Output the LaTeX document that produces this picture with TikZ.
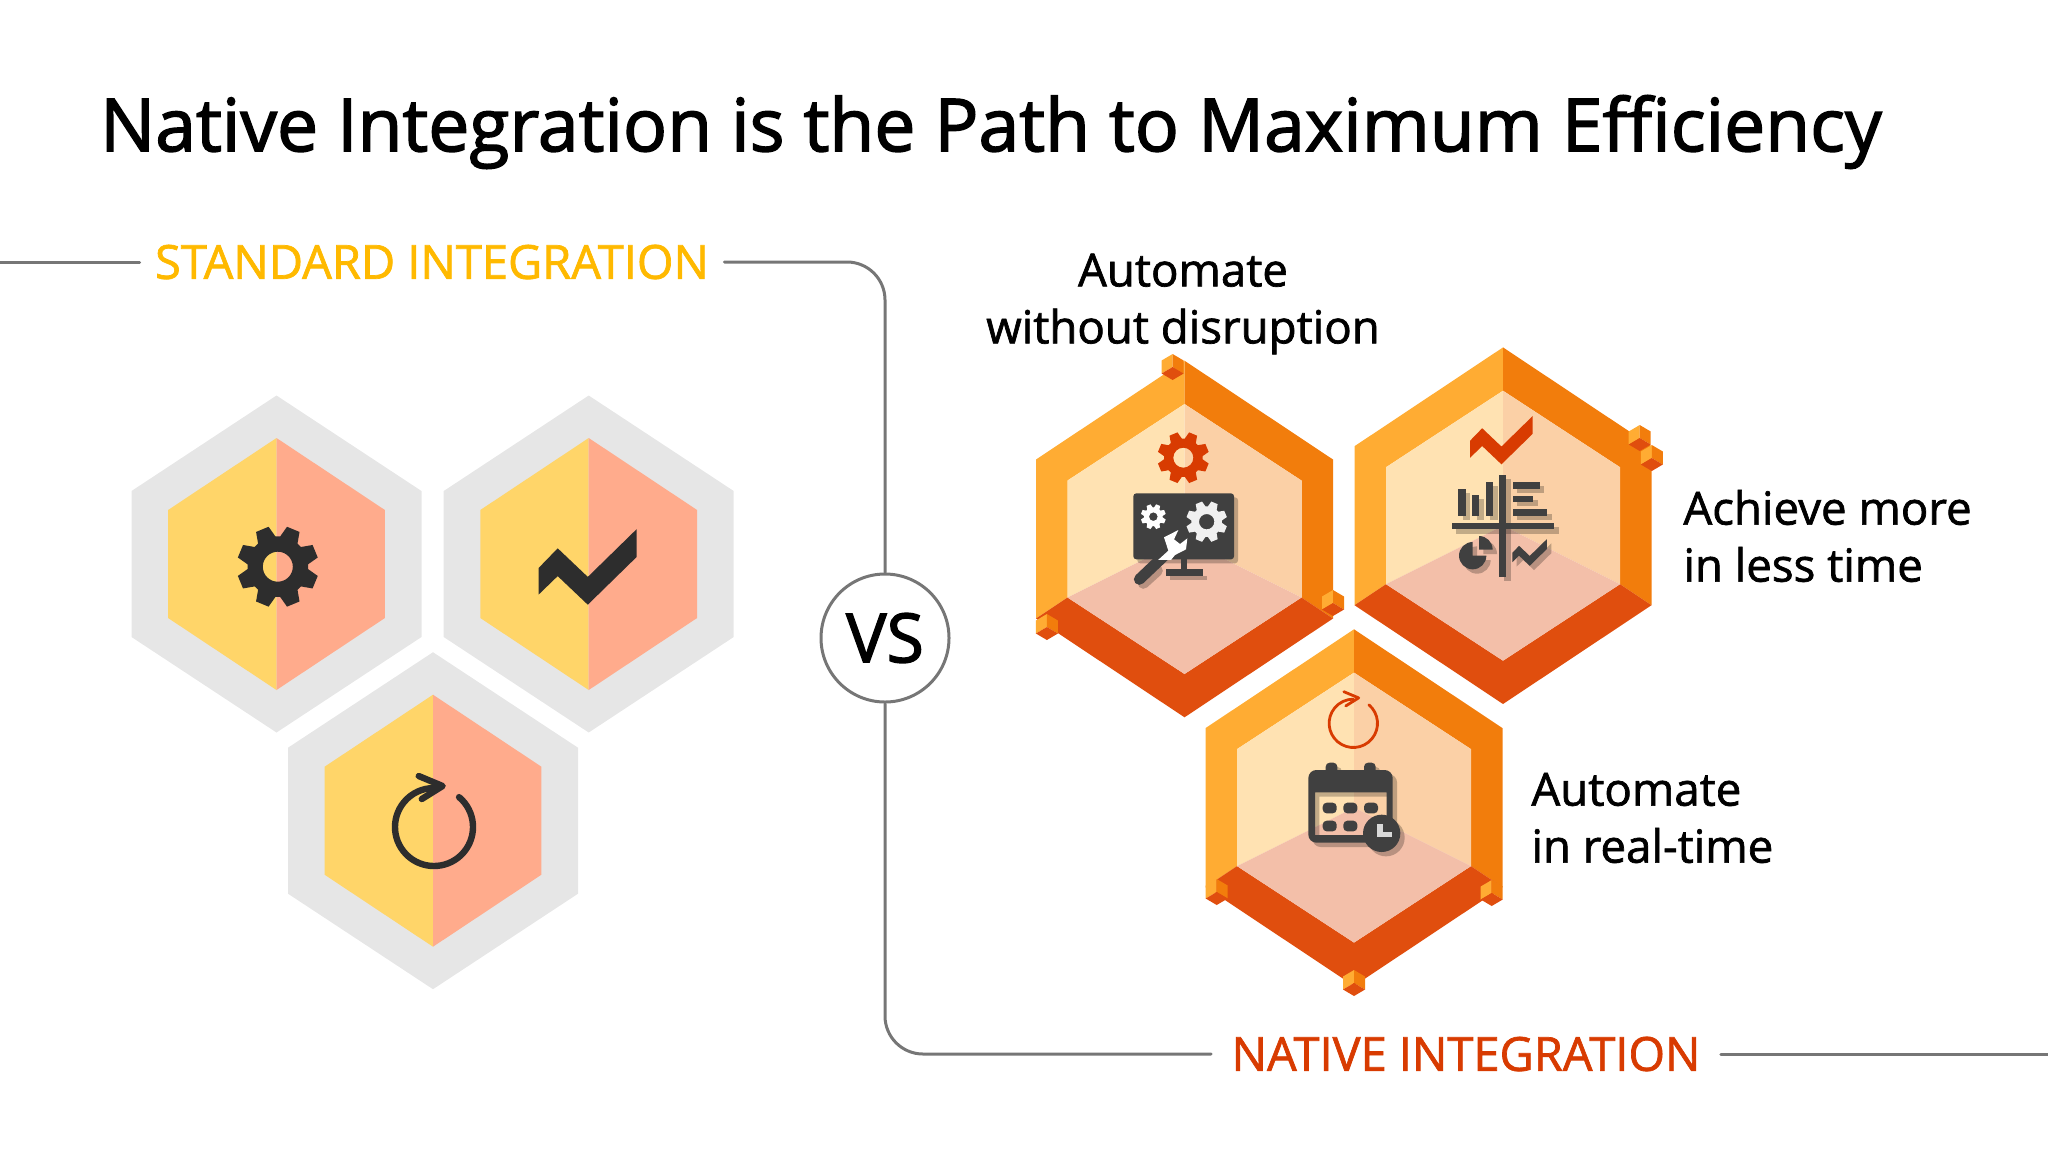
\documentclass[tikz,border=0pt]{standalone}
\usepackage{fontspec}
\setmainfont{Open Sans}
\newfontfamily\headfont[FakeBold=2]{Open Sans}
\newfontfamily\labelfont[FakeBold=1.5]{Open Sans}
\usepackage{tikz}
\usetikzlibrary{positioning}
\definecolor{hexgray}{HTML}{E6E6E6}
\definecolor{hexyellow}{HTML}{FFD569}
\definecolor{hexsalmon}{HTML}{FFAB8C}
\definecolor{bandlight}{HTML}{FFAC33}
\definecolor{bandmid}{HTML}{F27D0C}
\definecolor{banddark}{HTML}{E04E0E}
\definecolor{wallleft}{HTML}{FFE2B2}
\definecolor{wallright}{HTML}{FBD0A6}
\definecolor{floorpink}{HTML}{F3BFA9}
\definecolor{icondark}{HTML}{2D2D2D}
\definecolor{iconslate}{HTML}{404040}
\definecolor{iconred}{HTML}{D83B01}
\definecolor{framegray}{HTML}{767676}
\definecolor{stdyellow}{HTML}{FFB900}
\tikzset{
	frameline/.style={draw=framegray, line width=1.5pt, rounded corners=19pt, line cap=round}, % the long rule round both halves
	toplabel/.style={font=\labelfont\fontsize{23.5}{27}\selectfont, inner sep=7.5pt},
	sidelabel/.style={font=\labelfont\fontsize{22.8}{28.5}\selectfont, align=left, inner sep=0pt},
	iconshadow/.style={black, fill opacity=.24},
}
% grey hexagon of the left half
\newcommand{\grayhex}[2]{
	\begin{scope}[shift={(#1,#2)}]
		\fill[hexgray] (0,-168.5) -- (-145,-73) -- (-145,73) -- (0,168.5) -- (145,73) -- (145,-73) -- cycle;
		\fill[hexyellow] (0,-126) -- (-108.4,-54) -- (-108.4,54) -- (0,126) -- cycle;
		\fill[hexsalmon] (0,-126) -- (108.4,-54) -- (108.4,54) -- (0,126) -- cycle;
	\end{scope}
}
% orange hexagon of the right half
\newcommand{\orangehex}[2]{
	\begin{scope}[shift={(#1,#2)}]
		\fill[bandlight] (0,-178.3) -- (-148.5,-79.5) -- (-148.5,79.5) -- (-117,58.5) -- (-117,-58.5) -- (0,-135) -- cycle;
		\fill[bandmid] (0,-178.3) -- (148.5,-79.5) -- (148.5,79.5) -- (117,58.5) -- (117,-58.5) -- (0,-135) -- cycle;
		\fill[banddark] (-148.5,79.5) -- (0,178.3) -- (148.5,79.5) -- (117,58.5) -- (0,135) -- (-117,58.5) -- cycle;
		\fill[wallleft] (0,-135) -- (-117,-58.5) -- (-117,58.5) -- (0,0) -- cycle;
		\fill[wallright] (0,-135) -- (117,-58.5) -- (117,58.5) -- (0,0) -- cycle;
		\fill[floorpink] (-117,58.5) -- (0,0) -- (117,58.5) -- (0,135) -- cycle;
	\end{scope}
}
% small cube on a corner
\newcommand{\cornercube}[2]{
	\begin{scope}[shift={(#1,#2)}]
		\fill[bandlight] (-11,-6.5) -- (0,-13) -- (0,0) -- (-11,6.5) -- cycle;
		\fill[bandmid] (0,-13) -- (11,-6.5) -- (11,6.5) -- (0,0) -- cycle;
		\fill[banddark] (-11,6.5) -- (0,0) -- (11,6.5) -- (0,13) -- cycle;
	\end{scope}
}
% gear: centre x, centre y, radius, hole radius, colour
\newcommand{\gearicon}[5]{
	\fill[#5, even odd rule, shift={(#1,#2)}] (4.5:#3*.74)
		\foreach \a in {0,45,...,315} { -- (\a+4.5:#3*.74) -- (\a+13:#3) -- (\a+32:#3) -- (\a+40.5:#3*.74) }
		-- cycle (0,0) circle[radius=#4];
}
% rising zigzag: centre x, centre y, scale, colour
\newcommand{\zigzagicon}[4]{
	\fill[#4, shift={(#1,#2)}, scale=#3] (-50,1.2) -- (-31,-18.4) -- (-0.9,10.2) -- (48,-37.6) -- (48,-9.8) -- (-0.9,38) -- (-31,9.4) -- (-50,27.8) -- cycle;
}
% circular arrow: centre x, centre y, scale, line width, colour
\newcommand{\refreshicon}[5]{
	\begin{scope}[shift={(#1,#2)}, scale=#3]
		\draw[#5, line width=#4, line cap=round, line join=round] (-50:39) arc[start angle=-50, end angle=270, radius=39];
		\draw[#5, line width=#4, line cap=round, line join=round] (-15.3,-51) -- (8.6,-41) -- (-12.2,-28);
	\end{scope}
}
% bars, pie and trend of the chart sign
\newcommand{\chartmarks}[1]{
	\fill[#1] (208,195) rectangle (229,500);
	\fill[#1] (65,338) rectangle (373,358);
	\fill[#1] (85,236) rectangle (107,317);
	\fill[#1] (127,255) rectangle (148,317);
	\fill[#1] (168,215) rectangle (190,317);
	\fill[#1] (249,215) rectangle (330,236);
	\fill[#1] (249,257) rectangle (310,276);
	\fill[#1] (249,298) rectangle (352,317);
	\fill[#1] (128,437) -- ++(0:41) arc[start angle=0, end angle=270, radius=41] -- cycle;
	\fill[#1] (147,419) -- ++(-90:41) arc[start angle=-90, end angle=0, radius=41] -- cycle;
	\zigzagicon{300}{427}{1.06}{#1}
}
% calendar frame with its window, tabs and clock
\newcommand{\calendarmarks}[1]{
	\fill[#1, even odd rule, rounded corners=4pt] (385,450) rectangle (638,668) [sharp corners] (405,517) rectangle (620,645);
	\fill[#1, rounded corners=2pt] (437,428) rectangle (472,475);
	\fill[#1, rounded corners=2pt] (552,428) rectangle (587,475);
	\fill[#1] (605,640) circle[radius=56];
}
\begin{document}
\begin{tikzpicture}[x=.5pt, y=-.5pt]
	\useasboundingbox (0,0) rectangle (2048,1152);

	% Title
	\node[font=\headfont\fontsize{36.6}{42}\selectfont, inner sep=0pt] (title) at (991,132) {Native Integration is the Path to Maximum Efficiency};

	% Left hexagons
	\grayhex{276.5}{564}
	\grayhex{588.7}{564}
	\grayhex{433}{820.7}
	\gearicon{277.8}{566.7}{41}{15}{icondark}
	\zigzagicon{588.7}{566.7}{1}{icondark}
	\refreshicon{434}{827}{1}{3.2pt}{icondark}

	% Right hexagons
	\orangehex{1184.5}{539}
	\orangehex{1503}{525.7}
	\orangehex{1354}{807.6}

	% Corner cubes
	\cornercube{1172.6}{367}
	\cornercube{1333}{603}
	\cornercube{1046.9}{627}
	\cornercube{1639.7}{438}
	\cornercube{1651.8}{458}
	\cornercube{1216.7}{892}
	\cornercube{1491.7}{893}
	\cornercube{1354}{983}

	% Red signs
	\gearicon{1183.3}{457.7}{26}{10}{iconred}
	\zigzagicon{1502}{440}{.64}{iconred}
	\refreshicon{1353.3}{723.3}{.62}{1.4pt}{iconred}

	% Monitor sign
	\begin{scope}[shift={(1100,420)}, x=.16667pt, y=-.16667pt]
		\fill[iconshadow, rounded corners=1.5pt] (112,232) rectangle (414,430);
		\fill[iconshadow] (209,468) rectangle (320,479);
		\draw[iconshadow, draw opacity=.24, line width=5.5pt, line cap=round] (130,490) -- (172,452);
		\fill[iconslate, rounded corners=1.5pt] (100,220) rectangle (402,418);
		\fill[iconslate] (243,418) rectangle (262,450);
		\fill[iconslate] (197,448) rectangle (308,467);
		\gearicon{160}{290}{38}{13}{white}
		\gearicon{320}{305}{62}{23}{white!94!black}
		\draw[iconslate, line width=5.5pt, line cap=round] (118,478) -- (195,405);
		\begin{scope}
			\clip (100,220) rectangle (402,418);
			\fill[white] (152,440) -- (205,392) -- (192,352) -- (235,330) -- (222,358) -- (240,372) -- (262,355) -- (258,388) -- (225,405) -- (180,460) -- cycle;
		\end{scope}
	\end{scope}

	% Chart sign
	\begin{scope}[shift={(1430,410)}, x=.16667pt, y=-.16667pt]
		\begin{scope}[shift={(13,13)}]
			\chartmarks{iconshadow}
		\end{scope}
		\chartmarks{iconslate}
	\end{scope}

	% Calendar sign
	\begin{scope}[shift={(1180,620)}, x=.16667pt, y=-.16667pt]
		\begin{scope}[shift={(13,13)}]
			\calendarmarks{iconshadow}
		\end{scope}
		\calendarmarks{iconslate}
		\foreach \cx/\cy in {428/548,490/548,552/548,428/602,490/602} {
			\fill[iconslate, rounded corners=2pt] (\cx,\cy) rectangle (\cx+42,\cy+32);
		}
		\fill[white!85!black] (592,612) rectangle (610,652);
		\fill[white!85!black] (592,636) rectangle (635,652);
	\end{scope}

	% Labels
	\node[toplabel, text=stdyellow] (standard) at (432,262) {STANDARD INTEGRATION};
	\node[toplabel, inner sep=10pt, text=iconred] (native) at (1466,1054) {NATIVE INTEGRATION};
	\node[draw=framegray, line width=1.5pt, circle, minimum size=64pt, inner sep=0pt, font=\headfont\fontsize{34}{40}\selectfont] (vs) at (885,638) {VS};
	\node[sidelabel, align=center] (labelA) at (1183,304) {Automate\\without disruption};
	\node[sidelabel, anchor=west] (labelB) at (1683,536) {Achieve more\\in less time};
	\node[sidelabel, anchor=west] (labelC) at (1531,818) {Automate\\in real-time};

	% Frame lines
	\coordinate (leftend) at (0,262);
	\coordinate (rightend) at (2048,1054);
	\draw[frameline] (leftend) -- (standard.west);
	\draw[frameline] (standard.east) -| (vs.north);
	\draw[frameline] (vs.south) |- (native.west);
	\draw[frameline] (native.east) -- (rightend);
\end{tikzpicture}
\end{document}
